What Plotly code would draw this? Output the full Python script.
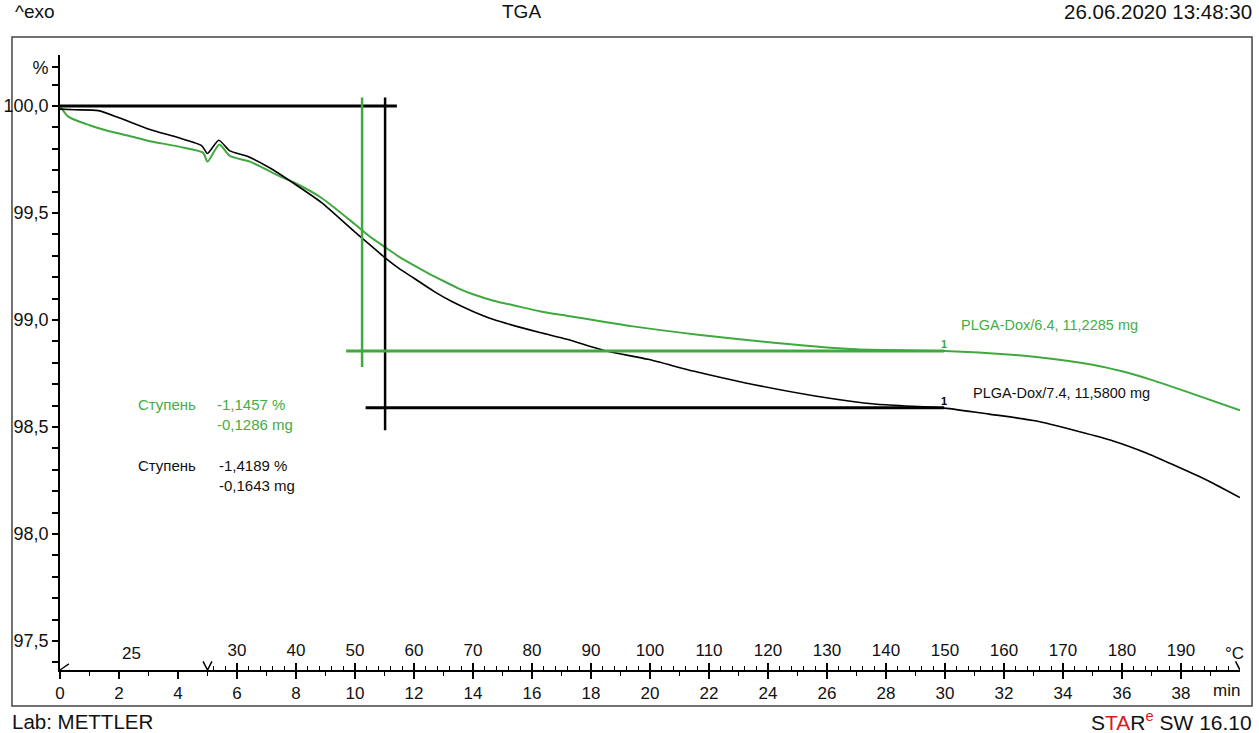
import plotly.graph_objects as go

# ---------------- data ----------------
time_black = [0.0, 0.5, 1.3, 2.0, 3.05, 4.0, 4.8, 5.0, 5.38, 5.76, 6.33, 7.12, 7.97, 8.87,
              10.0, 10.5, 11.02, 11.5, 12.0, 12.66, 13.3, 14.0, 14.7, 15.48, 16.3, 17.18,
              18.53, 19.93, 21.5, 23.2, 25.6, 27.7, 29.97, 31.5, 33.1, 34.5, 35.7, 36.8,
              37.7, 38.9, 40.0]
tga_black = [99.985, 99.982, 99.978, 99.945, 99.89, 99.852, 99.815, 99.778, 99.84, 99.79,
             99.766, 99.71, 99.634, 99.548, 99.41, 99.352, 99.29, 99.24, 99.195, 99.135,
             99.085, 99.04, 99.002, 98.97, 98.94, 98.91, 98.855, 98.816, 98.76, 98.707,
             98.645, 98.606, 98.588, 98.56, 98.528, 98.48, 98.435, 98.38, 98.326, 98.25,
             98.17]

time_green = [0.0, 0.28, 1.0, 1.64, 2.5, 3.05, 3.45, 4.2, 4.85, 5.0, 5.4, 5.76, 6.44, 7.18,
              7.56, 7.97, 8.87, 10.0, 10.5, 11.02, 11.5, 12.0, 12.5, 13.0, 13.5, 14.0, 14.7,
              15.48, 16.3, 17.18, 19.43, 21.7, 24.2, 27.0, 29.97, 31.5, 33.1, 35.05, 36.0,
              37.0, 38.5, 40.0]
tga_green = [100.0, 99.95, 99.91, 99.883, 99.855, 99.835, 99.825, 99.805, 99.782, 99.74,
             99.82, 99.766, 99.74, 99.69, 99.665, 99.64, 99.57, 99.447, 99.39, 99.34,
             99.295, 99.255, 99.217, 99.182, 99.148, 99.12, 99.09, 99.065, 99.04, 99.02,
             98.97, 98.93, 98.894, 98.863, 98.855, 98.845, 98.827, 98.79, 98.76, 98.72,
             98.65, 98.578]

# step evaluation construction lines
baseline_t = [0.0, 11.42]
baseline_y = [100.0, 100.0]
black_vert_t = [11.02, 11.02]
black_vert_y = [100.04, 98.485]
green_vert_t = [10.24, 10.24]
green_vert_y = [100.04, 98.78]
green_level_t = [9.7, 29.97]
green_level_y = [98.855, 98.855]
black_level_t = [10.36, 29.97]
black_level_y = [98.59, 98.59]

# axes
minute_ticks = list(range(0, 39, 2))
minute_minor = list(range(1, 40, 2))
temp_tick_minutes = list(range(6, 39, 2))
temp_tick_labels = [str(v) for v in range(30, 191, 10)]
temp_minor_minutes = [round(5.2 + 0.4 * i, 2) for i in range(88)]
temp_minor_minutes = [m for m in temp_minor_minutes if abs(m - round(m)) > 1e-6 or int(round(m)) % 2 == 1]
y_tick_values = [97.5, 98.0, 98.5, 99.0, 99.5, 100.0, 100.18]
y_tick_labels = ["97,5", "98,0", "98,5", "99,0", "99,5", "100,0", "%"]
y_minor = [round(97.4 + 0.1 * i, 1) for i in range(28)]

GREEN = "#3fa83f"
GREEN_TXT = "#45ad45"
INK = "#111111"
FONT = "Liberation Sans, Arial, sans-serif"

fig = go.Figure()

line_kw = dict(mode="lines", hoverinfo="skip", showlegend=False)
fig.add_trace(go.Scatter(x=time_green, y=tga_green, line=dict(color=GREEN, width=2, shape="spline", smoothing=0.6), **line_kw))
fig.add_trace(go.Scatter(x=time_black, y=tga_black, line=dict(color="black", width=1.6, shape="spline", smoothing=0.6), **line_kw))
fig.add_trace(go.Scatter(x=baseline_t, y=baseline_y, line=dict(color="black", width=3), **line_kw))
fig.add_trace(go.Scatter(x=green_vert_t, y=green_vert_y, line=dict(color=GREEN, width=2.5), **line_kw))
fig.add_trace(go.Scatter(x=black_vert_t, y=black_vert_y, line=dict(color="black", width=2.5), **line_kw))
fig.add_trace(go.Scatter(x=green_level_t, y=green_level_y, line=dict(color=GREEN, width=3), **line_kw))
fig.add_trace(go.Scatter(x=black_level_t, y=black_level_y, line=dict(color="black", width=3), **line_kw))
# temperature axis carrier (no visible data)
fig.add_trace(go.Scatter(x=[0, 40], y=[None, None], xaxis="x2", **line_kw))

fig.update_layout(
    width=1259, height=733,
    margin=dict(l=60, r=19, t=55, b=63, autoexpand=False),
    paper_bgcolor="white", plot_bgcolor="white",
    font=dict(family=FONT, size=16, color=INK),
    xaxis=dict(
        range=[0, 40], showgrid=False, zeroline=False, automargin=False,
        showline=True, linecolor="black", linewidth=1.6,
        tickmode="array", tickvals=minute_ticks, ticktext=[str(v) for v in minute_ticks],
        ticks="outside", ticklen=7, tickwidth=1.5, tickcolor="black",
        tickfont=dict(size=17, family=FONT, color=INK),
        minor=dict(tickvals=minute_minor, ticks="outside", ticklen=4, tickwidth=1.3, tickcolor="black"),
    ),
    xaxis2=dict(
        range=[0, 40], overlaying="x", side="top", anchor="free", position=0, automargin=False,
        showgrid=False, zeroline=False, showline=False,
        tickmode="array", tickvals=temp_tick_minutes, ticktext=temp_tick_labels,
        ticks="outside", ticklen=7, tickwidth=1.5, tickcolor="black",
        tickfont=dict(size=17, family=FONT, color=INK),
        minor=dict(tickvals=temp_minor_minutes, ticks="outside", ticklen=4, tickwidth=1.3, tickcolor="black"),
    ),
    yaxis=dict(
        range=[97.3645, 100.238], showgrid=False, zeroline=False, automargin=False,
        showline=True, linecolor="black", linewidth=1.8,
        tickmode="array", tickvals=y_tick_values, ticktext=y_tick_labels,
        ticks="outside", ticklen=6, tickwidth=1.5, tickcolor="black",
        tickfont=dict(size=18, family=FONT, color=INK),
        minor=dict(tickvals=y_minor, ticks="outside", ticklen=6, tickwidth=1.5, tickcolor="black"),
    ),
)

ann = []
def txt(text, x, y, xref="x", yref="y", xanchor="left", color=INK, size=15, yanchor="middle", align="left"):
    ann.append(dict(text=text, x=x, y=y, xref=xref, yref=yref, xanchor=xanchor, yanchor=yanchor,
                    showarrow=False, align=align, borderpad=0,
                    font=dict(family=FONT, size=size, color=color)))

# step results
txt("Ступень", 2.6, 98.603, color=GREEN_TXT)
txt("-1,1457 %<br>-0,1286 mg", 5.28, 98.558, color=GREEN_TXT)
txt("Ступень", 2.6, 98.318)
txt("-1,4189 %<br>-0,1643 mg", 5.35, 98.273)
# curve labels
txt("PLGA-Dox/6.4, 11,2285 mg", 30.5, 98.977, color=GREEN_TXT, size=14.5)
txt("PLGA-Dox/7.4, 11,5800 mg", 30.9, 98.659, size=14.5)
# end markers of step evaluation
txt("<b>1</b>", 29.97, 98.855, xanchor="center", yanchor="bottom", color=GREEN, size=11)
txt("<b>1</b>", 29.97, 98.59, xanchor="center", yanchor="bottom", color="black", size=11)
# axis unit labels
txt("25", 2.44, 0.0276, yref="paper", xanchor="center", size=17)
txt("°C", 39.8, 0.0276, yref="paper", xanchor="center", size=17)
txt("min", 39.55, -0.034, yref="paper", xanchor="center", size=17)
# header / footer
txt("^exo", -0.039, 1.07, xref="paper", yref="paper", size=19)
txt("TGA", 0.3907, 1.07, xref="paper", yref="paper", xanchor="center", size=19)
txt("26.06.2020 13:48:30", 1.011, 1.07, xref="paper", yref="paper", xanchor="right", size=20.5)
txt("Lab: METTLER", -0.0415, -0.083, xref="paper", yref="paper", size=20.5)
txt("S<span style='color:#d42020'>TA</span>R<span style='color:#d42020'><sup>e</sup></span> SW 16.10",
    1.011, -0.083, xref="paper", yref="paper", xanchor="right", size=21)
fig.update_layout(annotations=ann)

shapes = [
    dict(type="rect", xref="paper", yref="paper", x0=-0.0407, x1=1.0102, y0=-0.0585, y1=1.0293,
         line=dict(color="#444", width=1.5), layer="below"),
]
# temperature axis break / end marks
for m in (5.0, 40.0):
    shapes.append(dict(type="path", xref="x", yref="paper",
                       path=f"M {m-0.15},0.014 L {m},0.0 L {m+0.15},0.014",
                       line=dict(color="black", width=1.5)))
shapes.append(dict(type="line", xref="x", yref="paper", x0=0, y0=0, x1=0.3, y1=0.01,
                   line=dict(color="black", width=1.3)))
fig.update_layout(shapes=shapes)

fig.write_html("out.html", config={"displayModeBar": False})
